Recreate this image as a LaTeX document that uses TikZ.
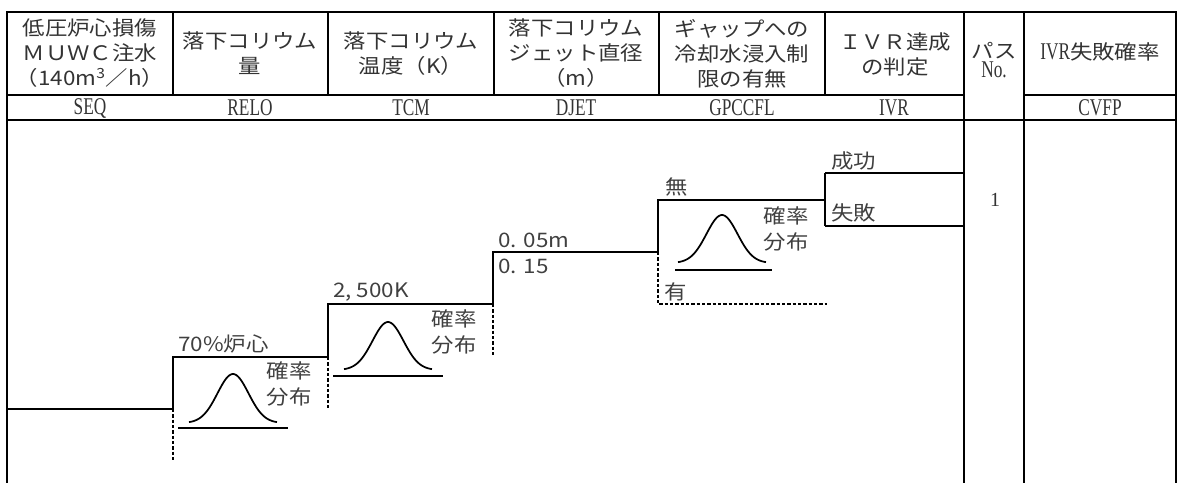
\documentclass[tikz,border=0pt]{standalone}
\usepackage{fontspec}
\newfontfamily\jp[FakeStretch=1.12]{Noto Sans CJK JP}
\newfontfamily\cond[FakeStretch=0.72]{Liberation Serif}
\newfontfamily\serifnum{Liberation Serif}
\newcommand\gausscurve[4]{%
  \draw[curve] plot[domain=-44:44,samples=60,smooth] ({#1+\x},{#2-#3*exp(-((\x/#4)^2)/2)});}
\begin{document}
\begin{tikzpicture}[x=0.75pt,y=-0.75pt,
  grid/.style={line width=1.5pt},
  tree/.style={line width=1.4pt},
  treedash/.style={line width=1.5pt, dash pattern=on 2.6pt off 1.4pt},
  curve/.style={line width=1.3pt},
  hd/.style={font=\jp\fontsize{15}{18.75}\selectfont, text=black!80, align=center, inner sep=0pt},
  code/.style={font=\cond\fontsize{18}{20}\selectfont, text=black!80, inner sep=0pt},
  lbl/.style={font=\jp\fontsize{15}{18.75}\selectfont, text=black!75, inner sep=0pt}
]
\useasboundingbox (0,0) rectangle (1178,482);

% ---- table grid ----
\draw[grid] (7,483) -- (7,12) -- (1176,12) -- (1176,483);
\draw[grid] (7,95) -- (964,95);
\draw[grid] (1024,95) -- (1176,95);
\draw[grid] (7,120) -- (1176,120);
\foreach \cx in {173,328,494,659,825} \draw[grid] (\cx,12) -- (\cx,95);
\draw[grid] (964,12) -- (964,483);
\draw[grid] (1024,12) -- (1024,483);

% ---- header texts ----
\node[hd] (h1) at (90,53.5) {低圧炉心損傷\\ＭＵＷＣ注水\\（140m\textsuperscript{3}／h）};
\node[hd] (h2) at (250,53.5) {落下コリウム\\量};
\node[hd] (h3) at (411,53.5) {落下コリウム\\温度（K）};
\node[hd] (h4) at (576,53.5) {落下コリウム\\ジェット直径\\（m）};
\node[hd] (h5) at (742,53.5) {ギャップへの\\冷却水浸入制\\限の有無};
\node[hd] (h6) at (895,54) {ＩＶＲ達成\\の判定};
\node[hd] (h7) at (994,60) {パス\\[-4pt]{\cond\fontsize{18}{20}\selectfont No.}};
\node[hd] (h8) at (1100,52) {{\cond\fontsize{18}{20}\selectfont IVR}失敗確率};

% ---- code row ----
\node[code] (c1) at (90,108) {SEQ};
\node[code] (c2) at (250,108) {RELO};
\node[code] (c3) at (411,108) {TCM};
\node[code] (c4) at (576,108) {DJET};
\node[code] (c5) at (742,108) {GPCCFL};
\node[code] (c6) at (894,108) {IVR};
\node[code] (c8) at (1100,108) {CVFP};

% ---- event tree ----
\coordinate (s0) at (7,409);
\coordinate (b1) at (173,409);  \coordinate (b1u) at (173,357); \coordinate (b1d) at (173,462);
\coordinate (b2) at (328,357);  \coordinate (b2u) at (328,304); \coordinate (b2d) at (328,408);
\coordinate (b3) at (493,304);  \coordinate (b3u) at (493,252); \coordinate (b3d) at (493,357);
\coordinate (b4) at (658,252);  \coordinate (b4u) at (658,200); \coordinate (b4d) at (658,304);
\coordinate (b4e) at (827,304);
\coordinate (b5) at (825,200);  \coordinate (b5u) at (825,173); \coordinate (b5d) at (825,226);
\coordinate (e1) at (964,173);  \coordinate (e2) at (964,226);

\draw[tree] (s0) -- (b1) -- (b1u) -- (b2) -- (b2u) -- (b3) -- (b3u) -- (b4) -- (b4u) -- (b5);
\draw[tree] (b5u) -- (b5d);
\draw[tree] (b5u) -- (e1);
\draw[tree] (b5d) -- (e2);
\draw[treedash] (b1) -- (b1d);
\draw[treedash] (b2) -- (b2d);
\draw[treedash] (b3) -- (b3d);
\draw[treedash] (b4) -- (b4d) -- (b4e);

% ---- distributions ----
\gausscurve{233}{423}{49}{15.5}
\draw[tree] (178,428) -- (288,428);
\gausscurve{388}{370}{48}{15.5}
\draw[tree] (333,376) -- (443,376);
\gausscurve{722}{263}{48}{15.5}
\draw[tree] (675,270) -- (772,270);

% ---- labels ----
\node[lbl, anchor=west] (l1) at (178,344) {70\%炉心};
\node[lbl, align=center] (p1) at (289,384) {確率\\[1pt]分布};
\node[lbl, anchor=west] (l2) at (333,292) {2, 500K};
\node[lbl, align=center] (p2) at (454,332) {確率\\[1pt]分布};
\node[lbl, anchor=west] (l3a) at (498,240) {0. 05m};
\node[lbl, anchor=west] (l3b) at (498,266) {0. 15};
\node[lbl, anchor=west] (l4a) at (665,187) {無};
\node[lbl, anchor=west] (l4b) at (664,292) {有};
\node[lbl, align=center] (p3) at (786,229) {確率\\[1pt]分布};
\node[lbl, anchor=west] (l5a) at (831,161) {成功};
\node[lbl, anchor=west] (l5b) at (831,213) {失敗};
\node[font=\serifnum\fontsize{15}{18}\selectfont, text=black!80, inner sep=0pt] (n1) at (995,200) {1};
\end{tikzpicture}
\end{document}
